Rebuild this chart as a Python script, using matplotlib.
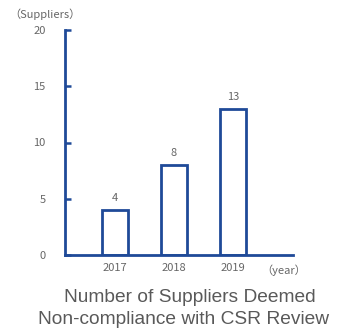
import matplotlib
matplotlib.use("Agg")
import matplotlib.pyplot as plt

years = ["2017", "2018", "2019"]
suppliers = [4, 8, 13]
yticks = [0, 5, 10, 15, 20]

blue = "#1f4a98"
gray = "#666666"
W, H = 346, 333

fig = plt.figure(figsize=(W / 100, H / 100), dpi=100)
ax = fig.add_axes([65 / W, 1 - 255 / H, (293 - 65) / W, (255 - 30) / H])

x = range(len(years))
ax.bar(x, suppliers, width=0.45, facecolor="white", edgecolor=blue, linewidth=2)
for xi, v in zip(x, suppliers):
    ax.text(xi, v + 0.6, str(v), ha="center", va="bottom", fontsize=8,
            color=gray, family=["Noto Sans CJK JP", "DejaVu Sans"])

ax.set_xlim(-0.85, 3.02)
ax.set_ylim(0, 20)
ax.set_xticks(list(x))
ax.set_xticklabels(years)
ax.set_yticks(yticks)

for s in ["top", "right"]:
    ax.spines[s].set_visible(False)
for s in ["left", "bottom"]:
    ax.spines[s].set_color(blue)
    ax.spines[s].set_linewidth(2)

ax.tick_params(axis="y", direction="in", length=4, width=1.8, color=blue,
               labelsize=8, labelcolor=gray, pad=14)
ax.tick_params(axis="x", length=0, labelsize=8, labelcolor=gray, pad=6)
for lbl in ax.get_xticklabels() + ax.get_yticklabels():
    lbl.set_family(["Noto Sans CJK JP", "DejaVu Sans"])

fig.text(9 / W, 1 - 14 / H, "（Suppliers）", fontsize=8, color=gray,
         va="center", ha="left", family=["Noto Sans CJK JP", "DejaVu Sans"])
fig.text(261 / W, 1 - 270 / H, "（year）", fontsize=8, color=gray,
         va="center", ha="left", family=["Noto Sans CJK JP", "DejaVu Sans"])

fig.text(190 / W, 1 - 298 / H, "Number of Suppliers Deemed", fontsize=13.8,
         color="#595959", ha="center", va="center", family="Liberation Sans")
fig.text(184 / W, 1 - 320 / H, "Non-compliance with CSR Review", fontsize=13.8,
         color="#595959", ha="center", va="center", family="Liberation Sans")

fig.savefig("out.png", dpi=100)
